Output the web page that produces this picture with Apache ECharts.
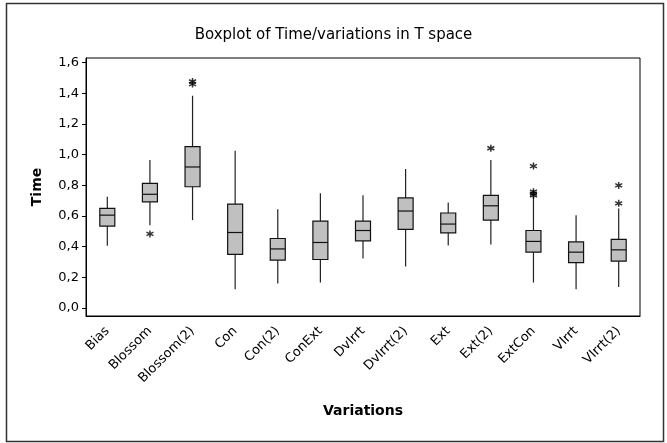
<!DOCTYPE html>
<html>
<head>
<meta charset="utf-8">
<script src="https://cdn.jsdelivr.net/npm/echarts@6/dist/echarts.min.js"></script>
<style>html,body{margin:0;padding:0;background:#fff}#c{width:667px;height:443px}</style>
</head>
<body>
<div id="c"></div>
<script>
// Categories
var categories = ["Bias","Blossom","Blossom(2)","Con","Con(2)","ConExt","DvIrrt","DvIrrt(2)","Ext","Ext(2)","ExtCon","VIrrt","VIrrt(2)"];
// Box statistics: [whisker low, Q1, median, Q3, whisker high]
var whiskerLow  = [0.405, 0.540, 0.573, 0.122, 0.159, 0.166, 0.323, 0.270, 0.407, 0.414, 0.166, 0.122, 0.137];
var q1          = [0.534, 0.692, 0.790, 0.349, 0.312, 0.316, 0.438, 0.512, 0.490, 0.573, 0.364, 0.296, 0.305];
var median      = [0.605, 0.741, 0.919, 0.492, 0.385, 0.427, 0.505, 0.632, 0.547, 0.666, 0.434, 0.364, 0.379];
var q3          = [0.649, 0.812, 1.052, 0.677, 0.453, 0.566, 0.566, 0.717, 0.619, 0.734, 0.505, 0.431, 0.447];
var whiskerHigh = [0.725, 0.965, 1.383, 1.024, 0.643, 0.747, 0.734, 0.906, 0.688, 0.965, 0.722, 0.605, 0.649];
// Outliers
var outlierCats   = ["Blossom","Blossom(2)","Blossom(2)","Ext(2)","ExtCon","ExtCon","ExtCon","ExtCon","VIrrt(2)","VIrrt(2)"];
var outlierValues = [0.483, 1.476, 1.459, 1.041, 0.925, 0.758, 0.745, 0.735, 0.799, 0.682];
// Y tick labels
var yTicks = [0, 0.2, 0.4, 0.6, 0.8, 1.0, 1.2, 1.4, 1.6];

var boxData = categories.map(function (c, i) {
  return [i, whiskerLow[i], q1[i], median[i], q3[i], whiskerHigh[i]];
});
var outData = outlierCats.map(function (c, i) { return [categories.indexOf(c), outlierValues[i]]; });

function renderBox(params, api) {
  var i = api.value(0);
  var pLow = api.coord([i, api.value(1)]);
  var pQ1 = api.coord([i, api.value(2)]);
  var pMed = api.coord([i, api.value(3)]);
  var pQ3 = api.coord([i, api.value(4)]);
  var pHigh = api.coord([i, api.value(5)]);
  var cx = pMed[0];
  var w = 15;
  var lineStyle = {stroke: '#222', lineWidth: 1.2};
  return {
    type: 'group',
    children: [
      {type: 'line', shape: {x1: cx, y1: pLow[1], x2: cx, y2: pQ1[1]}, style: lineStyle},
      {type: 'line', shape: {x1: cx, y1: pQ3[1], x2: cx, y2: pHigh[1]}, style: lineStyle},
      {type: 'rect', shape: {x: cx - w / 2, y: pQ3[1], width: w, height: pQ1[1] - pQ3[1]},
        style: {fill: '#c0c0c0', stroke: '#111', lineWidth: 1.2}},
      {type: 'line', shape: {x1: cx - w / 2, y1: pMed[1], x2: cx + w / 2, y2: pMed[1]}, style: {stroke: '#111', lineWidth: 1.2}}
    ]
  };
}

var FONT = 'DejaVu Sans';
var chart = echarts.init(document.getElementById('c'), null, {renderer: 'canvas'});
chart.setOption({
  animation: false,
  backgroundColor: '#fff',
  title: {
    text: 'Boxplot of Time/variations in T space',
    left: 'center', top: 23,
    textStyle: {fontFamily: FONT, fontSize: 15, fontWeight: 'normal', color: '#000'}
  },
  graphic: [{
    type: 'rect', shape: {x: 6.5, y: 3.5, width: 657, height: 438},
    style: {fill: 'none', stroke: '#333', lineWidth: 1.5}, silent: true, z: -1
  }],
  grid: {left: 86, right: 27, top: 58, bottom: 127, show: true, borderColor: '#000', borderWidth: 1, backgroundColor: 'transparent'},
  xAxis: {
    type: 'category', data: categories, boundaryGap: true,
    name: 'Variations', nameLocation: 'middle', nameGap: 88,
    nameTextStyle: {fontFamily: FONT, fontSize: 14, fontWeight: 'bold', color: '#000'},
    axisLine: {onZero: false, lineStyle: {color: '#000'}},
    axisTick: {alignWithLabel: true, length: 4, lineStyle: {color: '#000'}},
    axisLabel: {rotate: 45, fontFamily: FONT, fontSize: 13, color: '#000', margin: 13, interval: 0},
    splitLine: {show: false}
  },
  yAxis: {
    type: 'value', min: -0.052, max: 1.629,
    name: 'Time', nameLocation: 'middle', nameGap: 42,
    nameTextStyle: {fontFamily: FONT, fontSize: 14, fontWeight: 'bold', color: '#000'},
    axisLine: {show: true, lineStyle: {color: '#000'}},
    axisTick: {show: true, length: 4, customValues: yTicks, lineStyle: {color: '#000'}},
    axisLabel: {
      customValues: yTicks, fontFamily: FONT, fontSize: 13, color: '#000', margin: 7,
      formatter: function (v) { return v.toFixed(1).replace('.', ','); }
    },
    splitLine: {show: false}
  },
  series: [{
    type: 'custom', data: boxData, renderItem: renderBox,
    encode: {x: 0, y: [1, 2, 3, 4, 5]}
  }, {
    type: 'scatter', data: outData, symbolSize: 7,
    symbol: 'path://M0,-5L0,5M-4.33,-2.5L4.33,2.5M-4.33,2.5L4.33,-2.5',
    itemStyle: {color: 'transparent', borderColor: '#000', borderWidth: 1.5}
  }]
});
</script>
</body>
</html>
